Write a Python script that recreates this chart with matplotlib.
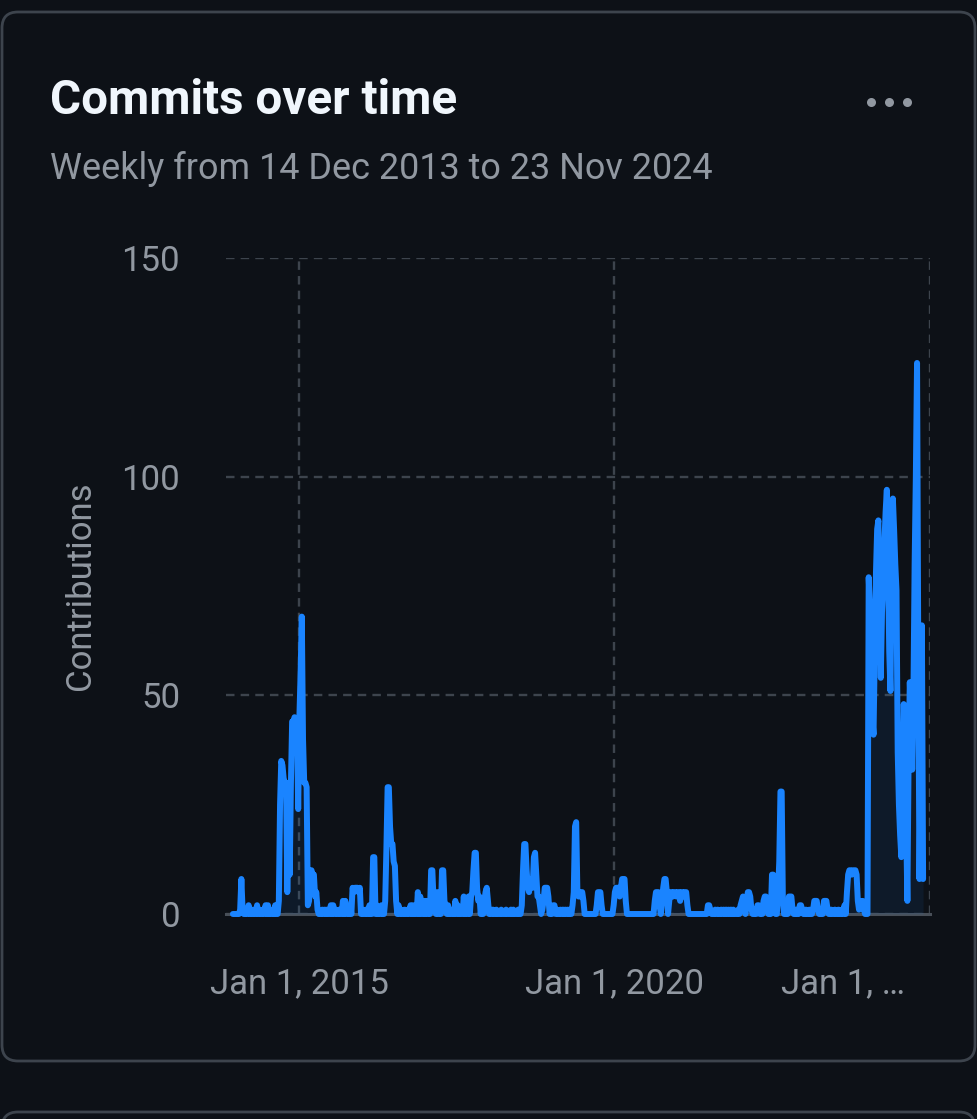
import numpy as np
import pandas as pd
import matplotlib
matplotlib.use("Agg")
import matplotlib.pyplot as plt
import matplotlib.dates as mdates
from matplotlib.patches import FancyBboxPatch
from matplotlib.transforms import IdentityTransform, ScaledTranslation
from matplotlib.lines import Line2D

# ---------------- data ----------------
title = "Commits over time"
subtitle = "Weekly from 14 Dec 2013 to 23 Nov 2024"
y_label = "Contributions"
start_date = "2013-12-14"
n_weeks = 572
y_ticks = [0, 50, 100, 150]
x_tick_dates = ["2015-01-01", "2020-01-01", "2025-01-01"]
x_tick_labels = ["Jan 1, 2015", "Jan 1, 2020", "Jan 1, \u2026"]

# weeks (index from start_date) with non-zero commits, and their values
weeks_2014 = [6, 7, 8, 11, 13, 15, 17, 20, 22, 25, 27, 29, 31, 33, 35,
              38, 39, 40, 41, 42, 43, 44, 45, 46, 47, 48, 49, 50, 51, 52, 53, 54,
              55, 56, 57, 58, 59, 60, 61, 62, 63, 64, 65, 66, 67, 68, 69, 70,
              74, 76, 78, 81, 83, 85, 88, 91, 93, 95, 97, 99, 100, 101, 102, 103,
              104, 105, 107, 110, 113, 116, 117, 119, 121, 123,
              126, 127, 128, 129, 130, 131, 132, 133, 134, 135, 137, 139, 142,
              145, 147, 149, 151, 153, 155, 158, 160, 162, 164, 165, 166, 167,
              169, 171, 173, 174, 175, 176, 178, 180, 182]
vals_2014 = [1, 8, 1, 1, 2, 1, 1, 2, 1, 1, 2, 2, 1, 1, 2,
             3, 25, 35, 34, 31, 30, 30, 5, 23, 9, 30, 44, 44, 45, 44, 44, 24,
             45, 55, 68, 40, 30, 30, 29, 2, 3, 10, 10, 9, 9, 4, 5, 1,
             1, 1, 1, 2, 2, 1, 1, 3, 3, 1, 2, 6, 5, 6, 6, 6,
             5, 6, 1, 1, 2, 13, 13, 2, 1, 2,
             3, 15, 29, 29, 20, 16, 16, 12, 11, 3, 2, 1, 1,
             1, 2, 2, 1, 5, 4, 3, 3, 2, 10, 10, 3, 4,
             5, 2, 10, 10, 3, 2, 2, 1, 1]

weeks_2017 = [184, 186, 188, 191, 193, 195, 197, 198, 199, 200, 201, 202, 203,
              204, 206, 208, 209, 210, 211, 213, 215, 218, 222, 226, 230, 232,
              236, 239, 240, 241, 242, 243, 244, 245, 246, 247, 248, 249, 250,
              251, 252, 253, 254, 256, 257, 258, 259, 260, 261, 263, 265, 266,
              268, 271, 273, 275, 277, 279, 281, 282, 283, 284, 285, 286, 287,
              288, 289, 290, 301, 302, 303, 304, 305, 315, 316, 317, 318, 319,
              320, 321, 322, 323, 324, 325]
vals_2017 = [3, 2, 1, 4, 3, 4, 4, 5, 10, 14, 14, 6, 3,
             4, 2, 3, 5, 6, 3, 1, 1, 1, 1, 1, 1, 1,
             1, 2, 10, 16, 16, 10, 6, 5, 8, 8, 6, 13, 14,
             9, 4, 4, 2, 1, 3, 6, 6, 6, 4, 1, 2, 2,
             1, 1, 1, 1, 1, 1, 2, 5, 20, 21, 5, 4, 4,
             5, 5, 3, 2, 5, 5, 5, 2, 2, 5, 6, 6, 6,
             4, 6, 8, 8, 8, 3]

weeks_2020 = [349, 350, 351, 352, 353, 355, 356, 357, 358, 359, 361, 362, 363,
              364, 365, 366, 367, 368, 369, 370, 371, 372, 373, 374, 375, 376,
              393, 394, 395, 399, 401, 404, 406, 408, 410, 412, 414, 418, 420,
              421, 422, 423, 425, 426, 427, 428, 429, 432, 434, 435, 437, 439,
              440, 441, 442, 444, 446, 447, 448, 451, 452, 453, 454, 455, 458,
              460, 461, 462, 463, 466, 469, 470, 471, 474, 477, 480, 481, 482,
              483, 484, 486, 489, 490, 491, 492, 495, 498, 501, 504, 506]
vals_2020 = [3, 5, 5, 5, 2, 3, 6, 8, 8, 5, 3, 5, 5,
             4, 5, 5, 4, 5, 5, 3, 5, 5, 4, 5, 5, 2,
             2, 2, 1, 1, 1, 1, 1, 1, 1, 1, 1, 1, 2,
             3, 4, 2, 3, 5, 5, 4, 1, 1, 2, 2, 1, 3,
             4, 4, 2, 1, 9, 9, 4, 5, 12, 28, 28, 3, 1,
             4, 4, 4, 1, 1, 2, 2, 1, 1, 1, 1, 3, 3,
             3, 1, 1, 3, 3, 3, 1, 1, 1, 1, 1, 2]

weeks_2024 = [508, 509, 510, 511, 512, 513, 514, 515, 516, 517, 518, 519, 520,
              521, 522, 526, 527, 528, 529, 530, 531, 532, 533, 534, 535, 536,
              537, 538, 539, 540, 541, 542, 543, 544, 545, 546, 547, 548, 549,
              550, 551, 552, 553, 554, 555, 556, 557, 558, 559, 560, 561, 562,
              563, 564, 565, 566, 567, 568, 569, 570, 571]
vals_2024 = [5, 9, 10, 10, 9, 10, 10, 10, 9, 3, 1, 3, 2,
             3, 1, 77, 70, 55, 45, 41, 60, 78, 88, 90, 70, 54,
             69, 75, 85, 92, 97, 80, 60, 51, 80, 95, 88, 80, 74,
             37, 25, 18, 13, 30, 48, 40, 20, 3, 35, 53, 45, 33,
             50, 80, 100, 126, 60, 8, 35, 66, 8]

# ---------------- build series ----------------
dates = pd.date_range(start_date, periods=n_weeks, freq="7D")
commits = np.zeros(n_weeks)
for w, v in ((weeks_2014, vals_2014), (weeks_2017, vals_2017),
             (weeks_2020, vals_2020), (weeks_2024, vals_2024)):
    commits[np.array(w)] = v

# ---------------- style ----------------
BG = "#0d1117"
BORDER = "#3d444d"
GRID = "#3d444d"
TXT = "#f0f6fc"
MUTED = "#9198a1"
BLUE = "#1a84ff"
FONT = ["Roboto", "DejaVu Sans"]
plt.rcParams["font.family"] = FONT

W, H = 977, 1119
fig = plt.figure(figsize=(W / 100, H / 100), dpi=100, facecolor=BG)

# cards (drawn behind everything)
card = FancyBboxPatch((2, H - 1061), 973, 1049,
                      boxstyle="round,pad=0,rounding_size=16",
                      transform=IdentityTransform(), facecolor=BG,
                      edgecolor=BORDER, linewidth=2.0, zorder=-10)
fig.patches.append(card)
card2 = FancyBboxPatch((2, -100), 973, 100 + (H - 1112),
                       boxstyle="round,pad=0,rounding_size=16",
                       transform=IdentityTransform(), facecolor=BG,
                       edgecolor=BORDER, linewidth=2.0, zorder=-10)
fig.patches.append(card2)

fig.text(50 / W, 1 - 114 / H, title, color=TXT, fontsize=34.3,
         fontweight="bold", ha="left", va="baseline")
fig.text(50 / W, 1 - 179 / H, subtitle, color=MUTED, fontsize=25.9,
         ha="left", va="baseline")
fig.add_artist(Line2D([871 / W, 889 / W, 907 / W], [1 - 102 / H] * 3,
                      transform=fig.transFigure, linestyle="none",
                      marker="o", markersize=6.5, color=MUTED,
                      markeredgewidth=0))

# axes
ax = fig.add_axes([226 / W, 1 - 914 / H, (930 - 226) / W, (914 - 258) / H],
                  zorder=5)
ax.set_facecolor("none")
ax.fill_between(dates, commits, 0, color=BLUE, alpha=0.08, linewidth=0,
                zorder=2)
ax.plot(dates, commits, color=BLUE, linewidth=4.3, solid_joinstyle="round",
        solid_capstyle="round", zorder=3, clip_on=False)

ax.set_ylim(0, 150)
ax.set_xlim(pd.Timestamp("2013-11-04"), pd.Timestamp("2025-01-02"))
ax.set_yticks(y_ticks)
ax.set_yticklabels([str(t) for t in y_ticks])
ax.set_xticks([pd.Timestamp(d) for d in x_tick_dates])
ax.set_xticklabels(x_tick_labels)

for s in ("left", "right", "top"):
    ax.spines[s].set_visible(False)
ax.spines["bottom"].set_color("#484f58")
ax.spines["bottom"].set_linewidth(2.2)
ax.spines["bottom"].set_zorder(1)

ax.grid(True, color=GRID, linewidth=1.7, linestyle=(0, (3.6, 2.6)), zorder=1)
ax.set_axisbelow(True)
ax.tick_params(axis="both", length=0, colors=MUTED, labelsize=25)
ax.tick_params(axis="x", pad=38)
ax.tick_params(axis="y", pad=33)

# last tick label is truncated and pulled into the card
lbls = ax.get_xticklabels()
lbls[-1].set_transform(lbls[-1].get_transform() +
                       ScaledTranslation(-0.87, 0, fig.dpi_scale_trans))

ax.set_ylabel(y_label, color=MUTED, fontsize=25)
ax.yaxis.set_label_coords((97 - 226) / (930 - 226), 0.5)

fig.savefig("out.png", dpi=100, facecolor=BG)
